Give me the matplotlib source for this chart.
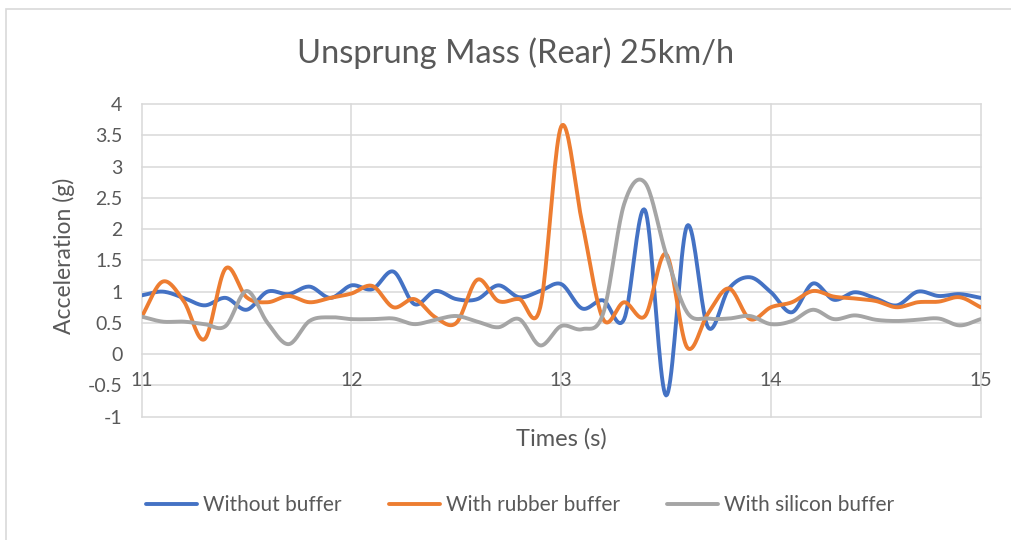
import numpy as np
import matplotlib
matplotlib.use("Agg")
import matplotlib.pyplot as plt
from matplotlib.patches import Rectangle

plt.rcParams['font.family'] = ['Lato', 'DejaVu Sans']

title = "Unsprung Mass (Rear) 25km/h"
x_label = "Times (s)"
y_label = "Acceleration (g)"
series_names = ["Without buffer", "With rubber buffer", "With silicon buffer"]
colors = ["#4472C4", "#ED7D31", "#A5A5A5"]

time_s = [11.0, 11.1, 11.2, 11.3, 11.4, 11.5, 11.6, 11.7, 11.8, 11.9,
          12.0, 12.1, 12.2, 12.3, 12.4, 12.5, 12.6, 12.7, 12.8, 12.9,
          13.0, 13.1, 13.2, 13.3, 13.4, 13.5, 13.6, 13.7, 13.8, 13.9,
          14.0, 14.1, 14.2, 14.3, 14.4, 14.5, 14.6, 14.7, 14.8, 14.9, 15.0]

without_buffer = [0.94, 1.00, 0.90, 0.78, 0.90, 0.71, 1.00, 0.96, 1.08, 0.90,
                  1.10, 1.04, 1.32, 0.80, 1.01, 0.88, 0.88, 1.10, 0.91, 1.01,
                  1.12, 0.73, 0.86, 0.56, 2.30, -0.66, 2.05, 0.43, 1.05, 1.23,
                  0.99, 0.67, 1.13, 0.87, 0.99, 0.89, 0.78, 1.00, 0.93, 0.96, 0.90]

rubber_buffer = [0.60, 1.16, 0.85, 0.24, 1.37, 0.91, 0.83, 0.93, 0.83, 0.90,
                 0.97, 1.09, 0.75, 0.88, 0.59, 0.50, 1.19, 0.85, 0.88, 0.75,
                 3.64, 2.10, 0.56, 0.83, 0.61, 1.60, 0.11, 0.65, 1.05, 0.56,
                 0.75, 0.83, 1.01, 0.92, 0.89, 0.85, 0.75, 0.83, 0.84, 0.91, 0.75]

silicon_buffer = [0.60, 0.52, 0.52, 0.48, 0.45, 1.01, 0.50, 0.16, 0.53, 0.59,
                  0.56, 0.56, 0.57, 0.48, 0.55, 0.61, 0.52, 0.43, 0.56, 0.14,
                  0.45, 0.40, 0.65, 2.40, 2.74, 1.60, 0.67, 0.57, 0.57, 0.61,
                  0.48, 0.53, 0.71, 0.56, 0.62, 0.55, 0.53, 0.55, 0.57, 0.46, 0.56]

y_ticks = [-1, -0.5, 0, 0.5, 1, 1.5, 2, 2.5, 3, 3.5, 4]
x_ticks = [11, 12, 13, 14, 15]


def smooth(x, y, n=20):
    """Excel-style smoothed line (Catmull-Rom) through the data points."""
    x = np.asarray(x, float)
    y = np.asarray(y, float)
    px = np.concatenate([[2 * x[0] - x[1]], x, [2 * x[-1] - x[-2]]])
    py = np.concatenate([[2 * y[0] - y[1]], y, [2 * y[-1] - y[-2]]])
    xs, ys = [], []
    t = np.linspace(0, 1, n, endpoint=False)
    for i in range(1, len(px) - 2):
        for arr, out in ((px, xs), (py, ys)):
            p0, p1, p2, p3 = arr[i - 1], arr[i], arr[i + 1], arr[i + 2]
            out.append(0.5 * ((2 * p1) + (-p0 + p2) * t +
                              (2 * p0 - 5 * p1 + 4 * p2 - p3) * t ** 2 +
                              (-p0 + 3 * p1 - 3 * p2 + p3) * t ** 3))
    xs.append([x[-1]])
    ys.append([y[-1]])
    return np.concatenate(xs), np.concatenate(ys)


W, H = 1011, 540
fig = plt.figure(figsize=(W / 100, H / 100), dpi=100)
fig.patches.append(Rectangle((6 / W, -0.1), 1.2, 1 - 9 / H + 0.1,
                             transform=fig.transFigure, fill=False,
                             edgecolor="#d9d9d9", linewidth=1.2))

ax = fig.add_axes([141.7 / W, 1 - 416.7 / H, (980.7 - 141.7) / W, (416.7 - 104) / H])
ax.set_xlim(11, 15)
ax.set_ylim(-1, 4)

grid_c = "#d9d9d9"
for yt in y_ticks:
    ax.axhline(yt, color=grid_c, lw=1.1, zorder=1, clip_on=False)
for xt in x_ticks:
    ax.axvline(xt, color=grid_c, lw=1.1, zorder=1, clip_on=False)

for s in ax.spines.values():
    s.set_visible(False)
ax.spines['bottom'].set_position(('data', 0))

text_c = "#595959"
ax.set_yticks(y_ticks)
ax.set_yticklabels([f"{v:g}" for v in y_ticks])
ax.set_xticks(x_ticks)
ax.set_xticklabels([str(v) for v in x_ticks])
ax.tick_params(axis='both', length=0, labelsize=14, labelcolor=text_c)
ax.tick_params(axis='y', pad=14)
ax.tick_params(axis='x', pad=12.5)

for name, ys, c in zip(series_names, [without_buffer, rubber_buffer, silicon_buffer], colors):
    sx, sy = smooth(time_s, ys)
    ax.plot(sx, sy, color=c, lw=2.8, label=name, zorder=3, solid_capstyle='round')

fig.text(516 / W, 1 - 53 / H, title, ha='center', va='center', fontsize=23.5, color=text_c)
fig.text(561 / W, 1 - 439 / H, x_label, ha='center', va='center', fontsize=17, color=text_c)
fig.text(64 / W, 1 - 256 / H, y_label, ha='center', va='center', fontsize=16.5,
         color=text_c, rotation=90)

leg = fig.legend(loc='center', bbox_to_anchor=(520 / W, 1 - 505 / H), ncol=3,
                 frameon=False, fontsize=15, handlelength=2.45, handletextpad=0.3,
                 columnspacing=2.25, labelcolor=text_c)

fig.savefig("out.png", dpi=100)
